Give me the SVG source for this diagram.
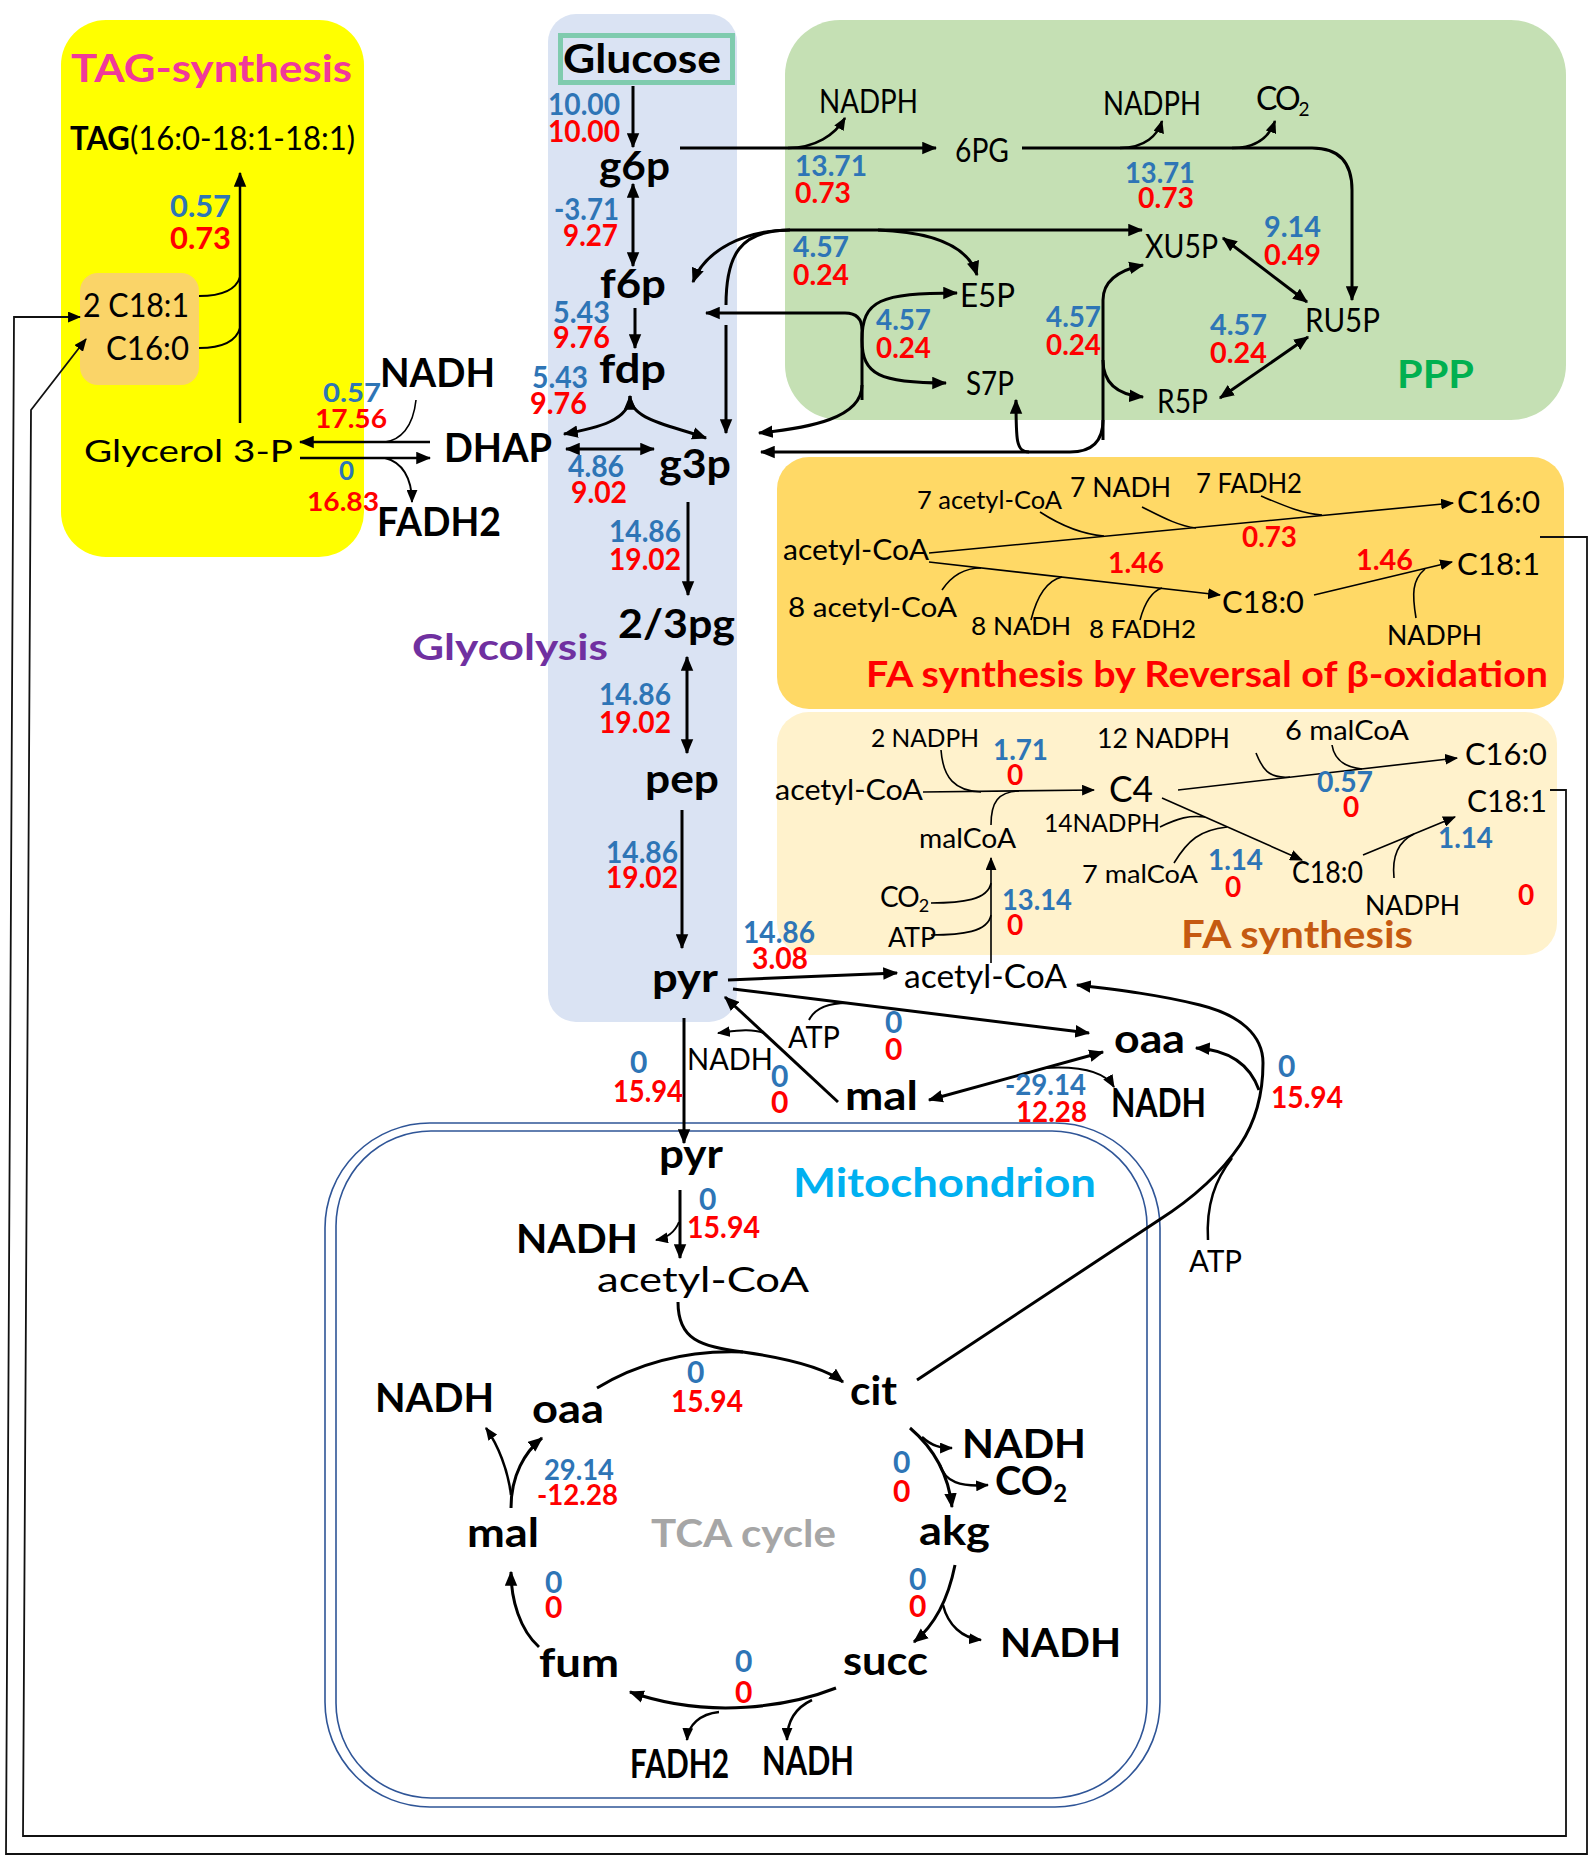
<svg xmlns="http://www.w3.org/2000/svg" width="1594" height="1860" viewBox="0 0 1594 1860">
<defs>
<style>
text{font-family:Lato,"Liberation Sans",sans-serif}
.b{font-weight:700;fill:#000;font-size:40px}
.r{font-weight:400;fill:#000}
.nb{font-weight:700;fill:#2E75B6;font-size:30px}
.nr{font-weight:700;fill:#FF0000;font-size:30px}
.c{stroke:#000;fill:none;stroke-width:3}
.t{stroke:#000;fill:none;stroke-width:1.6}
.e{marker-end:url(#ah)}
.s{marker-start:url(#ah)}
.et{marker-end:url(#ahs)}
.mito{fill:none;stroke:#2F5597;stroke-width:1.6}
</style>
<marker id="ah" viewBox="0 0 12 10" refX="11" refY="5" markerWidth="15" markerHeight="13" markerUnits="userSpaceOnUse" orient="auto-start-reverse"><path d="M0,0 L12,5 L0,10 z" fill="#000"/></marker>
<marker id="ahs" viewBox="0 0 12 10" refX="11" refY="5" markerWidth="13" markerHeight="11" markerUnits="userSpaceOnUse" orient="auto-start-reverse"><path d="M0,0 L12,5 L0,10 z" fill="#000"/></marker>
</defs>
<rect width="1594" height="1860" fill="#fff"/>
<g id="panels">
<rect id="tag-panel" x="61" y="20" width="303" height="537" rx="45" fill="#FFFF00"/>
<rect id="fa-pool" x="80" y="273" width="119" height="112" rx="18" fill="#FAD468"/>
<rect id="glycolysis-panel" x="548" y="14" width="189" height="1008" rx="28" fill="#DAE3F3"/>
<rect id="ppp-panel" x="785" y="20" width="781" height="400" rx="55" fill="#C5E0B4"/>
<rect id="fa-reversal-panel" x="777" y="457" width="787" height="252" rx="32" fill="#FFD966"/>
<rect id="fa-synthesis-panel" x="777" y="712" width="780" height="243" rx="32" fill="#FFF2CC"/>
<rect id="mito-outer" class="mito" x="325" y="1123" width="835" height="684" rx="105"/>
<rect id="mito-inner" class="mito" x="336" y="1131" width="811" height="667" rx="95"/>
</g>
<g id="connectors">
<path class="c e" d="M633,86 V147"/>
<path class="c s e" d="M633,184 V266"/>
<path class="c e" d="M635,308 V348"/>
<path class="c s e" d="M630,396 C630,420 598,428 564,434"/>
<path class="c e" d="M630,396 C630,420 670,425 706,438"/>
<path class="c s e" d="M566,449 H654"/>
<path class="c e" d="M688,502 V595"/>
<path class="c s e" d="M687,657 V753"/>
<path class="c e" d="M682,810 V948"/>
<path class="c e" d="M430,442 H300" style="stroke-width:2.5"/>
<path class="c e" d="M300,458 H430" style="stroke-width:2.5"/>
<path class="t" d="M416,400 C413,428 400,440 385,442"/>
<path class="t et" d="M385,458 C402,462 412,478 412,502" style="stroke-width:2"/>
<path class="c e" d="M240,423 V173" style="stroke-width:2.5"/>
<path class="t" d="M199,296 C222,296 236,290 240,277" style="stroke-width:2"/>
<path class="t" d="M199,348 C222,348 236,342 240,328" style="stroke-width:2"/>
<path class="t et" d="M1540,537 H1587 V1854 H6 L14,317 H80" style="stroke:#111;stroke-width:1.8"/>
<path class="t et" d="M1550,790 H1566 V1836 H23 L31,410 L86,339" style="stroke:#111;stroke-width:1.8"/>
<path class="c e" d="M680,148 H936"/>
<path class="c et" d="M788,148 C815,148 835,135 845,118" style="stroke-width:2.5"/>
<path class="c e" d="M1022,148 H1312 Q1352,148 1352,190 V300"/>
<path class="c et" d="M1120,148 C1145,148 1158,135 1162,121" style="stroke-width:2.5"/>
<path class="c et" d="M1232,148 C1258,148 1270,135 1275,121" style="stroke-width:2.5"/>
<path class="c s e" d="M1223,238 L1307,302"/>
<path class="c s e" d="M1220,398 L1308,337"/>
<path class="c e" d="M726,305 C726,255 740,230 790,230 H1142"/>
<path class="c e" d="M790,230 C745,230 705,250 693,282"/>
<path class="c e" d="M726,325 V433"/>
<path class="c e" d="M878,230 C930,232 968,245 977,275"/>
<path class="c e" d="M862,400 V330 Q862,313 845,313 H706"/>
<path class="c e" d="M862,340 C862,300 880,293 957,293"/>
<path class="c e" d="M862,340 C862,375 880,383 946,383"/>
<path class="c e" d="M862,385 C862,418 810,428 759,433"/>
<path class="c e" d="M1103,440 V300 C1103,280 1120,270 1143,265"/>
<path class="c e" d="M1103,360 C1103,385 1120,395 1143,397"/>
<path class="c e" d="M1103,420 Q1103,452 1070,452 H761"/>
<path class="c e" d="M1029,452 C1016,452 1016,440 1016,400"/>
<path class="c e" d="M728,980 L897,973"/>
<path class="c e" d="M733,989 L1089,1033"/>
<path class="t" d="M809,1020 C815,1008 830,1003 847,1003" style="stroke-width:2"/>
<path class="c e" d="M838,1102 L725,997"/>
<path class="t et" d="M764,1033 C750,1028 735,1031 718,1033" style="stroke-width:2"/>
<path class="c s e" d="M1103,1052 L929,1100"/>
<path class="t et" d="M1045,1068 C1080,1066 1105,1072 1114,1087" style="stroke-width:2"/>
<path class="c e" d="M684,1018 V1143"/>
<path class="c e" d="M680,1190 V1258"/>
<path class="t et" d="M679,1222 C675,1232 667,1238 656,1240" style="stroke-width:2"/>
<path class="c e" d="M678,1302 C678,1340 700,1346 743,1352 C785,1358 825,1368 843,1382"/>
<path class="c" d="M597,1388 C640,1362 690,1350 743,1352"/>
<path class="c e" d="M917,1380 L1159,1220 C1195,1197 1223,1170 1240,1145 C1258,1118 1263,1090 1263,1063 C1263,1035 1240,1015 1200,1005 C1160,995 1120,990 1077,985"/>
<path class="c e" d="M1259,1090 C1250,1065 1230,1050 1196,1048"/>
<path class="c" d="M1208,1240 C1206,1205 1215,1180 1232,1158" style="stroke-width:2.5"/>
<path class="c e" d="M910,1428 C930,1445 948,1470 952,1507"/>
<path class="c et" d="M922,1437 C932,1446 940,1448 952,1448" style="stroke-width:2.5"/>
<path class="c et" d="M940,1465 C945,1482 960,1487 988,1485" style="stroke-width:2.5"/>
<path class="c e" d="M955,1565 C948,1600 935,1625 914,1642"/>
<path class="c et" d="M943,1605 C948,1625 962,1638 981,1640" style="stroke-width:2.5"/>
<path class="c e" d="M836,1688 C790,1706 710,1720 630,1692"/>
<path class="c et" d="M719,1712 C700,1714 688,1725 687,1740" style="stroke-width:2.5"/>
<path class="c et" d="M812,1700 C795,1708 787,1722 787,1740" style="stroke-width:2.5"/>
<path class="c e" d="M539,1647 C520,1630 511,1600 511,1572"/>
<path class="c e" d="M511,1508 C511,1475 525,1452 542,1438"/>
<path class="c et" d="M511,1495 C508,1470 498,1445 486,1428" style="stroke-width:2.5"/>
<path class="t et" d="M929,553 L1453,503"/>
<path class="t" d="M1040,512 C1060,525 1080,534 1104,536"/>
<path class="t" d="M1142,507 C1160,516 1178,526 1196,528"/>
<path class="t" d="M1261,496 C1285,506 1303,514 1322,515"/>
<path class="t et" d="M929,562 L1220,595"/>
<path class="t" d="M942,590 C952,575 965,568 981,568"/>
<path class="t" d="M1031,620 C1036,600 1045,581 1062,577"/>
<path class="t" d="M1140,620 C1144,605 1150,592 1162,588"/>
<path class="t et" d="M1314,595 L1452,562"/>
<path class="t" d="M1416,618 C1412,594 1412,580 1425,569"/>
<path class="t et" d="M923,792 L1094,790"/>
<path class="t" d="M941,750 C943,778 955,791 981,792"/>
<path class="t" d="M991,825 C991,802 998,792 1019,791"/>
<path class="t et" d="M991,963 V858"/>
<path class="t" d="M931,903 C962,903 988,900 991,883"/>
<path class="t" d="M931,935 C962,935 988,932 991,915"/>
<path class="t et" d="M1178,790 L1457,758"/>
<path class="t" d="M1256,753 C1262,768 1268,779 1290,777"/>
<path class="t" d="M1332,745 C1334,758 1342,767 1362,769"/>
<path class="t et" d="M1162,798 L1302,860"/>
<path class="t" d="M1160,827 C1178,818 1190,815 1205,817"/>
<path class="t" d="M1174,863 C1188,840 1200,830 1227,827"/>
<path class="t et" d="M1363,855 L1455,817"/>
<path class="t" d="M1394,878 C1392,858 1397,842 1414,834"/>
</g>
<g id="titles">
<text x="71" y="82" font-size="38" font-weight="700" fill="#F0399A" textLength="281" lengthAdjust="spacingAndGlyphs">TAG-synthesis</text>
<text x="412" y="660" font-size="37" font-weight="700" fill="#7030A0" textLength="196" lengthAdjust="spacingAndGlyphs">Glycolysis</text>
<text x="1397" y="388" font-size="38" font-weight="700" fill="#00B050" textLength="77" lengthAdjust="spacingAndGlyphs">PPP</text>
<text x="866" y="687" font-size="36" font-weight="700" fill="#FF0000" textLength="682" lengthAdjust="spacingAndGlyphs">FA synthesis by Reversal of β-oxidation</text>
<text x="1181" y="948" font-size="38" font-weight="700" fill="#C55A11" textLength="232" lengthAdjust="spacingAndGlyphs">FA synthesis</text>
<text x="793" y="1197" font-size="40" font-weight="700" fill="#00B0F0" textLength="303" lengthAdjust="spacingAndGlyphs">Mitochondrion</text>
<text x="651" y="1547" font-size="38" font-weight="700" fill="#A6A6A6" textLength="185" lengthAdjust="spacingAndGlyphs">TCA cycle</text>
</g>
<g id="nodes">
<g id="n-tag"><text class="r" x="70" y="150" font-size="33" textLength="285" lengthAdjust="spacingAndGlyphs"><tspan font-weight="700">TAG</tspan>(16:0-18:1-18:1)</text></g>
<g id="n-c181-pool"><text class="r" x="83" y="317" font-size="32" textLength="106" lengthAdjust="spacingAndGlyphs">2 C18:1</text></g>
<g id="n-c160-pool"><text class="r" x="106" y="360" font-size="32" textLength="83" lengthAdjust="spacingAndGlyphs">C16:0</text></g>
<g id="n-glycerol3p"><text class="r" x="84" y="462" font-size="30" textLength="209" lengthAdjust="spacingAndGlyphs">Glycerol 3-P</text></g>
<g id="n-nadh-g3p"><text class="b" x="380" y="387" font-size="39" textLength="115" lengthAdjust="spacingAndGlyphs">NADH</text></g>
<g id="n-dhap"><text class="b" x="444" y="462" font-size="39" textLength="108" lengthAdjust="spacingAndGlyphs">DHAP</text></g>
<g id="n-fadh2-g3p"><text class="b" x="377" y="536" font-size="37" textLength="124" lengthAdjust="spacingAndGlyphs">FADH2</text></g>
<g id="n-glucose"><rect x="560.5" y="35.5" width="172" height="47" fill="none" stroke="#7FCBAE" stroke-width="5"/><text class="b" x="563" y="73" textLength="158" lengthAdjust="spacingAndGlyphs">Glucose</text></g>
<g id="n-g6p"><text class="b" x="599" y="180" textLength="71" lengthAdjust="spacingAndGlyphs">g6p</text></g>
<g id="n-f6p"><text class="b" x="600" y="298" textLength="66" lengthAdjust="spacingAndGlyphs">f6p</text></g>
<g id="n-fdp"><text class="b" x="599" y="383" textLength="67" lengthAdjust="spacingAndGlyphs">fdp</text></g>
<g id="n-g3p"><text class="b" x="659" y="478" textLength="72" lengthAdjust="spacingAndGlyphs">g3p</text></g>
<g id="n-23pg"><text class="b" x="618" y="638" textLength="117" lengthAdjust="spacingAndGlyphs">2/3pg</text></g>
<g id="n-pep"><text class="b" x="645" y="793" textLength="74" lengthAdjust="spacingAndGlyphs">pep</text></g>
<g id="n-pyr"><text class="b" x="652" y="992" textLength="66" lengthAdjust="spacingAndGlyphs">pyr</text></g>
<g id="n-nadph-1"><text class="r" x="819" y="113" font-size="32" textLength="99" lengthAdjust="spacingAndGlyphs">NADPH</text></g>
<g id="n-6pg"><text class="r" x="955" y="162" font-size="32" textLength="54" lengthAdjust="spacingAndGlyphs">6PG</text></g>
<g id="n-nadph-2"><text class="r" x="1103" y="115" font-size="32" textLength="98" lengthAdjust="spacingAndGlyphs">NADPH</text></g>
<g id="n-co2-ppp"><text class="r" x="1256" y="110" font-size="32" letter-spacing="-2">CO<tspan font-size="19" dy="6">2</tspan></text></g>
<g id="n-xu5p"><text class="r" x="1145" y="258" font-size="32" textLength="73" lengthAdjust="spacingAndGlyphs">XU5P</text></g>
<g id="n-ru5p"><text class="r" x="1305" y="332" font-size="32" textLength="75" lengthAdjust="spacingAndGlyphs">RU5P</text></g>
<g id="n-r5p"><text class="r" x="1157" y="413" font-size="32" textLength="51" lengthAdjust="spacingAndGlyphs">R5P</text></g>
<g id="n-e5p"><text class="r" x="960" y="307" font-size="32" textLength="55" lengthAdjust="spacingAndGlyphs">E5P</text></g>
<g id="n-s7p"><text class="r" x="966" y="395" font-size="32" textLength="48" lengthAdjust="spacingAndGlyphs">S7P</text></g>
<g id="n-7acoa"><text class="r" x="917" y="509" font-size="25" textLength="145" lengthAdjust="spacingAndGlyphs">7 acetyl-CoA</text></g>
<g id="n-7nadh"><text class="r" x="1070" y="497" font-size="27" textLength="101" lengthAdjust="spacingAndGlyphs">7 NADH</text></g>
<g id="n-7fadh2"><text class="r" x="1196" y="493" font-size="27" textLength="106" lengthAdjust="spacingAndGlyphs">7 FADH2</text></g>
<g id="n-c160-rev"><text class="r" x="1457" y="513" font-size="31" textLength="83" lengthAdjust="spacingAndGlyphs">C16:0</text></g>
<g id="n-acoa-rev"><text class="r" x="783" y="560" font-size="29" textLength="146" lengthAdjust="spacingAndGlyphs">acetyl-CoA</text></g>
<g id="n-c181-rev"><text class="r" x="1457" y="575" font-size="31" textLength="83" lengthAdjust="spacingAndGlyphs">C18:1</text></g>
<g id="n-8acoa"><text class="r" x="788" y="617" font-size="27" textLength="169" lengthAdjust="spacingAndGlyphs">8 acetyl-CoA</text></g>
<g id="n-8nadh"><text class="r" x="971" y="635" font-size="25" textLength="100" lengthAdjust="spacingAndGlyphs">8 NADH</text></g>
<g id="n-c180-rev"><text class="r" x="1222" y="613" font-size="31" textLength="82" lengthAdjust="spacingAndGlyphs">C18:0</text></g>
<g id="n-8fadh2"><text class="r" x="1089" y="638" font-size="25" textLength="107" lengthAdjust="spacingAndGlyphs">8 FADH2</text></g>
<g id="n-nadph-rev"><text class="r" x="1387" y="645" font-size="27" textLength="95" lengthAdjust="spacingAndGlyphs">NADPH</text></g>
<g id="n-2nadph"><text class="r" x="871" y="747" font-size="25" textLength="108" lengthAdjust="spacingAndGlyphs">2 NADPH</text></g>
<g id="n-12nadph"><text class="r" x="1097" y="748" font-size="26" textLength="133" lengthAdjust="spacingAndGlyphs">12 NADPH</text></g>
<g id="n-6malcoa"><text class="r" x="1285" y="740" font-size="26" textLength="124" lengthAdjust="spacingAndGlyphs">6 malCoA</text></g>
<g id="n-c160-fas"><text class="r" x="1465" y="765" font-size="31" textLength="82" lengthAdjust="spacingAndGlyphs">C16:0</text></g>
<g id="n-acoa-fas"><text class="r" x="775" y="800" font-size="28" textLength="148" lengthAdjust="spacingAndGlyphs">acetyl-CoA</text></g>
<g id="n-c4"><text class="r" x="1109" y="802" font-size="36" textLength="44" lengthAdjust="spacingAndGlyphs">C4</text></g>
<g id="n-c181-fas"><text class="r" x="1467" y="812" font-size="31" textLength="80" lengthAdjust="spacingAndGlyphs">C18:1</text></g>
<g id="n-14nadph"><text class="r" x="1044" y="832" font-size="25" textLength="116" lengthAdjust="spacingAndGlyphs">14NADPH</text></g>
<g id="n-malcoa"><text class="r" x="919" y="848" font-size="27" textLength="97" lengthAdjust="spacingAndGlyphs">malCoA</text></g>
<g id="n-7malcoa"><text class="r" x="1082" y="883" font-size="25" textLength="116" lengthAdjust="spacingAndGlyphs">7 malCoA</text></g>
<g id="n-c180-fas"><text class="r" x="1292" y="883" font-size="30" textLength="71" lengthAdjust="spacingAndGlyphs">C18:0</text></g>
<g id="n-co2-fas"><text class="r" x="880" y="907" font-size="28" letter-spacing="-1">CO<tspan font-size="18" dy="5">2</tspan></text></g>
<g id="n-nadph-fas"><text class="r" x="1365" y="915" font-size="26" textLength="95" lengthAdjust="spacingAndGlyphs">NADPH</text></g>
<g id="n-atp-fas"><text class="r" x="888" y="947" font-size="26" textLength="48" lengthAdjust="spacingAndGlyphs">ATP</text></g>
<g id="n-acoa-cyt"><text class="r" x="904" y="988" font-size="32" textLength="163" lengthAdjust="spacingAndGlyphs">acetyl-CoA</text></g>
<g id="n-oaa-cyt"><text class="b" x="1114" y="1053" textLength="71" lengthAdjust="spacingAndGlyphs">oaa</text></g>
<g id="n-atp-pc"><text class="r" x="788" y="1048" font-size="30" textLength="52" lengthAdjust="spacingAndGlyphs">ATP</text></g>
<g id="n-nadh-me"><text class="r" x="687" y="1070" font-size="30" textLength="86" lengthAdjust="spacingAndGlyphs">NADH</text></g>
<g id="n-mal-cyt"><text class="b" x="845" y="1110" textLength="73" lengthAdjust="spacingAndGlyphs">mal</text></g>
<g id="n-nadh-mdh"><text class="b" x="1111" y="1117" font-size="33" textLength="95" lengthAdjust="spacingAndGlyphs">NADH</text></g>
<g id="n-atp-acl"><text class="r" x="1189" y="1272" font-size="30" textLength="53" lengthAdjust="spacingAndGlyphs">ATP</text></g>
<g id="n-pyr-mit"><text class="b" x="659" y="1168" textLength="64" lengthAdjust="spacingAndGlyphs">pyr</text></g>
<g id="n-nadh-pdh"><text class="b" x="516" y="1253" font-size="39" textLength="122" lengthAdjust="spacingAndGlyphs">NADH</text></g>
<g id="n-acoa-mit"><text class="r" x="597" y="1292" font-size="34" textLength="212" lengthAdjust="spacingAndGlyphs">acetyl-CoA</text></g>
<g id="n-cit"><text class="b" x="850" y="1405" textLength="47" lengthAdjust="spacingAndGlyphs">cit</text></g>
<g id="n-oaa-mit"><text class="b" x="532" y="1423" textLength="72" lengthAdjust="spacingAndGlyphs">oaa</text></g>
<g id="n-nadh-mdh-mit"><text class="b" x="375" y="1412" textLength="119" lengthAdjust="spacingAndGlyphs">NADH</text></g>
<g id="n-nadh-idh"><text class="b" x="962" y="1458" textLength="124" lengthAdjust="spacingAndGlyphs">NADH</text></g>
<g id="n-co2-idh"><text class="b" x="995" y="1495" font-size="38">CO<tspan font-size="24" dy="7">2</tspan></text></g>
<g id="n-akg"><text class="b" x="919" y="1545" textLength="71" lengthAdjust="spacingAndGlyphs">akg</text></g>
<g id="n-mal-mit"><text class="b" x="467" y="1547" textLength="72" lengthAdjust="spacingAndGlyphs">mal</text></g>
<g id="n-nadh-akgdh"><text class="b" x="1000" y="1657" textLength="121" lengthAdjust="spacingAndGlyphs">NADH</text></g>
<g id="n-succ"><text class="b" x="843" y="1675" textLength="85" lengthAdjust="spacingAndGlyphs">succ</text></g>
<g id="n-fum"><text class="b" x="539" y="1677" textLength="80" lengthAdjust="spacingAndGlyphs">fum</text></g>
<g id="n-fadh2-sdh"><text class="b" x="630" y="1778" font-size="31" textLength="99" lengthAdjust="spacingAndGlyphs">FADH2</text></g>
<g id="n-nadh-sdh"><text class="b" x="762" y="1775" font-size="31" textLength="92" lengthAdjust="spacingAndGlyphs">NADH</text></g>
</g>
<g id="flux-labels">
<text class="nb" x="170" y="217" style="font-size:31px" textLength="61" lengthAdjust="spacingAndGlyphs">0.57</text>
<text class="nr" x="170" y="249" style="font-size:31px" textLength="61" lengthAdjust="spacingAndGlyphs">0.73</text>
<text class="nb" x="323" y="402" style="font-size:26px" textLength="58" lengthAdjust="spacingAndGlyphs">0.57</text>
<text class="nr" x="315" y="428" style="font-size:26px" textLength="72" lengthAdjust="spacingAndGlyphs">17.56</text>
<text class="nb" x="339" y="480" style="font-size:26px">0</text>
<text class="nr" x="307" y="511" style="font-size:26px" textLength="72" lengthAdjust="spacingAndGlyphs">16.83</text>
<text class="nb" x="548" y="115" textLength="72" lengthAdjust="spacingAndGlyphs">10.00</text>
<text class="nr" x="548" y="142" textLength="72" lengthAdjust="spacingAndGlyphs">10.00</text>
<text class="nb" x="554" y="220" textLength="65" lengthAdjust="spacingAndGlyphs">-3.71</text>
<text class="nr" x="563" y="246" textLength="55" lengthAdjust="spacingAndGlyphs">9.27</text>
<text class="nb" x="553" y="323" textLength="57" lengthAdjust="spacingAndGlyphs">5.43</text>
<text class="nr" x="553" y="348" textLength="57" lengthAdjust="spacingAndGlyphs">9.76</text>
<text class="nb" x="532" y="388" textLength="56" lengthAdjust="spacingAndGlyphs">5.43</text>
<text class="nr" x="530" y="414" textLength="57" lengthAdjust="spacingAndGlyphs">9.76</text>
<text class="nb" x="568" y="477" textLength="56" lengthAdjust="spacingAndGlyphs">4.86</text>
<text class="nr" x="571" y="503" textLength="56" lengthAdjust="spacingAndGlyphs">9.02</text>
<text class="nb" x="609" y="542" textLength="72" lengthAdjust="spacingAndGlyphs">14.86</text>
<text class="nr" x="609" y="570" textLength="72" lengthAdjust="spacingAndGlyphs">19.02</text>
<text class="nb" x="599" y="705" textLength="72" lengthAdjust="spacingAndGlyphs">14.86</text>
<text class="nr" x="599" y="733" textLength="72" lengthAdjust="spacingAndGlyphs">19.02</text>
<text class="nb" x="606" y="863" textLength="72" lengthAdjust="spacingAndGlyphs">14.86</text>
<text class="nr" x="606" y="888" textLength="72" lengthAdjust="spacingAndGlyphs">19.02</text>
<text class="nb" x="795" y="176" style="font-size:28px" textLength="72" lengthAdjust="spacingAndGlyphs">13.71</text>
<text class="nr" x="795" y="203" style="font-size:28px" textLength="56" lengthAdjust="spacingAndGlyphs">0.73</text>
<text class="nb" x="1125" y="183" style="font-size:28px" textLength="70" lengthAdjust="spacingAndGlyphs">13.71</text>
<text class="nr" x="1138" y="208" style="font-size:28px" textLength="56" lengthAdjust="spacingAndGlyphs">0.73</text>
<text class="nb" x="1264" y="237" style="font-size:28px" textLength="57" lengthAdjust="spacingAndGlyphs">9.14</text>
<text class="nr" x="1264" y="265" style="font-size:28px" textLength="57" lengthAdjust="spacingAndGlyphs">0.49</text>
<text class="nb" x="1210" y="335" style="font-size:28px" textLength="57" lengthAdjust="spacingAndGlyphs">4.57</text>
<text class="nr" x="1210" y="363" style="font-size:28px" textLength="57" lengthAdjust="spacingAndGlyphs">0.24</text>
<text class="nb" x="793" y="257" style="font-size:28px" textLength="56" lengthAdjust="spacingAndGlyphs">4.57</text>
<text class="nr" x="793" y="285" style="font-size:28px" textLength="56" lengthAdjust="spacingAndGlyphs">0.24</text>
<text class="nb" x="876" y="330" style="font-size:28px" textLength="55" lengthAdjust="spacingAndGlyphs">4.57</text>
<text class="nr" x="876" y="358" style="font-size:28px" textLength="55" lengthAdjust="spacingAndGlyphs">0.24</text>
<text class="nb" x="1046" y="327" style="font-size:28px" textLength="55" lengthAdjust="spacingAndGlyphs">4.57</text>
<text class="nr" x="1046" y="355" style="font-size:28px" textLength="55" lengthAdjust="spacingAndGlyphs">0.24</text>
<text class="nr" x="1242" y="547" style="font-size:28px" textLength="55" lengthAdjust="spacingAndGlyphs">0.73</text>
<text class="nr" x="1108" y="573" style="font-size:28px" textLength="56" lengthAdjust="spacingAndGlyphs">1.46</text>
<text class="nr" x="1356" y="570" style="font-size:28px" textLength="57" lengthAdjust="spacingAndGlyphs">1.46</text>
<text class="nb" x="993" y="760" style="font-size:28px" textLength="55" lengthAdjust="spacingAndGlyphs">1.71</text>
<text class="nr" x="1007" y="785" style="font-size:28px">0</text>
<text class="nb" x="1317" y="792" style="font-size:28px" textLength="56" lengthAdjust="spacingAndGlyphs">0.57</text>
<text class="nr" x="1343" y="817" style="font-size:28px">0</text>
<text class="nb" x="1438" y="848" style="font-size:28px" textLength="55" lengthAdjust="spacingAndGlyphs">1.14</text>
<text class="nb" x="1208" y="870" style="font-size:28px" textLength="55" lengthAdjust="spacingAndGlyphs">1.14</text>
<text class="nr" x="1225" y="897" style="font-size:28px">0</text>
<text class="nr" x="1518" y="905" style="font-size:28px">0</text>
<text class="nb" x="1002" y="910" style="font-size:28px" textLength="70" lengthAdjust="spacingAndGlyphs">13.14</text>
<text class="nr" x="1007" y="935" style="font-size:28px">0</text>
<text class="nb" x="743" y="943" textLength="72" lengthAdjust="spacingAndGlyphs">14.86</text>
<text class="nr" x="752" y="969" textLength="56" lengthAdjust="spacingAndGlyphs">3.08</text>
<text class="nb" x="885" y="1033">0</text>
<text class="nr" x="885" y="1060">0</text>
<text class="nb" x="771" y="1087">0</text>
<text class="nr" x="771" y="1113">0</text>
<text class="nb" x="1005" y="1095" style="font-size:28px" textLength="81" lengthAdjust="spacingAndGlyphs">-29.14</text>
<text class="nr" x="1016" y="1122" style="font-size:28px" textLength="71" lengthAdjust="spacingAndGlyphs">12.28</text>
<text class="nb" x="630" y="1073">0</text>
<text class="nr" x="613" y="1102" textLength="70" lengthAdjust="spacingAndGlyphs">15.94</text>
<text class="nb" x="1278" y="1077">0</text>
<text class="nr" x="1271" y="1108" textLength="72" lengthAdjust="spacingAndGlyphs">15.94</text>
<text class="nb" x="699" y="1210">0</text>
<text class="nr" x="687" y="1238" textLength="73" lengthAdjust="spacingAndGlyphs">15.94</text>
<text class="nb" x="687" y="1383">0</text>
<text class="nr" x="671" y="1412" textLength="72" lengthAdjust="spacingAndGlyphs">15.94</text>
<text class="nb" x="893" y="1473">0</text>
<text class="nr" x="893" y="1502">0</text>
<text class="nb" x="544" y="1480" style="font-size:28px" textLength="70" lengthAdjust="spacingAndGlyphs">29.14</text>
<text class="nr" x="537" y="1505" style="font-size:28px" textLength="81" lengthAdjust="spacingAndGlyphs">-12.28</text>
<text class="nb" x="909" y="1590">0</text>
<text class="nr" x="909" y="1617">0</text>
<text class="nb" x="545" y="1593">0</text>
<text class="nr" x="545" y="1618">0</text>
<text class="nb" x="735" y="1672">0</text>
<text class="nr" x="735" y="1703">0</text>
</g>
</svg>
